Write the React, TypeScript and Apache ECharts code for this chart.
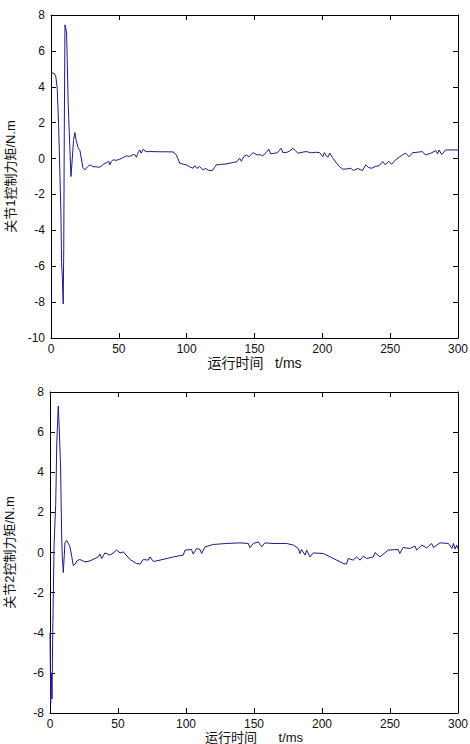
import React, { useEffect, useRef } from "react";
import * as echarts from "echarts";

// Joint 1 torque: [time ms, torque N.m]
const joint1: [number, number][] = [
  [0, 4.75], [2, 4.77], [3.5, 4.6], [4.6, 3.9], [5.6, 1.9], [6.6, -1.0], [7.3, -3.0], [7.8, -5.8], [8.3, -6.5], [9.0, -8.1],
  [9.4, -5.0], [9.8, 1.5], [10.3, 7.45], [10.8, 7.3], [11.5, 7.0], [12.7, 3.0], [14.0, 0.4], [14.7, -1.0], [15.7, 0.0],
  [16.6, 1.0], [17.6, 1.45], [18.6, 1.0], [20, 0.6], [21.3, 0.45], [23.5, -0.5], [25, -0.63], [27, -0.45], [28.7, -0.35],
  [31, -0.45], [36, -0.48], [39, -0.3], [41, -0.22], [42.5, -0.15], [43.4, -0.35], [44.5, -0.15], [45.8, -0.07], [48, -0.1],
  [50.7, -0.04], [53, 0.05], [55.6, 0.15], [58, 0.12], [60, 0.2], [61.8, 0.22], [63, 0.07], [64, 0.3], [65.4, 0.48],
  [66.5, 0.3], [67.9, 0.52], [70, 0.38], [72.8, 0.39], [80, 0.38], [90, 0.37], [92.4, 0.2], [94.9, -0.26], [97, -0.3],
  [99.8, -0.35], [102, -0.45], [104.6, -0.54], [106, -0.4], [107.5, -0.55], [109.5, -0.44], [112, -0.63], [114, -0.55],
  [116, -0.65], [119, -0.67], [120.5, -0.5], [121.8, -0.35], [125, -0.33], [129, -0.3], [134, -0.22], [137, -0.18],
  [139, 0.02], [140.3, -0.15], [142, 0.1], [143.9, 0.2], [146, 0.1], [148.8, 0.33], [152, 0.2], [154, 0.22], [156, 0.15],
  [158.6, 0.33], [160.5, 0.52], [162, 0.26], [165, 0.3], [167, 0.33], [169.6, 0.57], [171, 0.33], [174, 0.35], [176, 0.42],
  [178.2, 0.57], [180, 0.45], [182, 0.3], [185, 0.35], [188, 0.39], [192, 0.32], [195, 0.35], [198, 0.33], [200.3, 0.1],
  [201.5, 0.33], [203, 0.15], [204, 0.07], [205.5, 0.3], [207.5, 0.05], [210, -0.2], [212.5, -0.44], [215, -0.59], [218, -0.58],
  [221, -0.54], [223, -0.67], [226, -0.55], [229.6, -0.67], [232, -0.35], [234, -0.5], [236.5, -0.54], [239, -0.44],
  [241.9, -0.4], [244.5, -0.17], [246.5, -0.35], [249, -0.15], [251, -0.32], [254, -0.07], [256.5, 0.07], [259, 0.2],
  [261.5, 0.3], [264, 0.1], [266.5, 0.33], [270, 0.35], [273.7, 0.39], [276, 0.2], [280, 0.3], [283.6, 0.44], [285, 0.26],
  [286, 0.48], [288, 0.22], [290.9, 0.48], [295, 0.48], [300, 0.48],
];

// Joint 2 torque: [time ms, torque N.m]
const joint2: [number, number][] = [
  [0, -4.0], [0.5, -7.5], [1.0, -6.0], [1.5, -7.3], [2.0, -4.0], [3.0, 0.4], [4.2, 2.4], [5.0, 5.5], [6.1, 7.3], [6.8, 6.2],
  [7.8, 4.2], [8.5, 1.1], [9.0, -0.2], [9.8, -1.0], [11.0, 0.5], [12.3, 0.6], [13.5, 0.45], [14.7, 0.28], [16.0, -0.2],
  [17.1, -0.65], [18.4, -0.58], [20, -0.4], [22, -0.35], [25.7, -0.47], [29.4, -0.42], [33, -0.3], [35.5, -0.22],
  [36.7, -0.08], [38, -0.3], [40.4, -0.02], [44, -0.13], [47, 0.0], [49, 0.12], [51.5, -0.02], [54, 0.03], [58.8, -0.35],
  [63.7, -0.55], [66.2, -0.58], [68.6, -0.35], [72.3, -0.38], [73.5, -0.22], [76, -0.45], [80.9, -0.38], [90.7, -0.22],
  [98, -0.13], [99.3, 0.12], [104, 0.15], [105.3, -0.08], [107.8, 0.2], [110.3, 0.15], [111.5, -0.05], [114, 0.28],
  [120, 0.4], [130, 0.45], [139.7, 0.48], [145.8, 0.45], [147, 0.25], [149.5, 0.45], [153.2, 0.53], [155.6, 0.28],
  [158, 0.48], [164, 0.45], [174, 0.45], [179, 0.37], [182.6, 0.2], [183.8, -0.05], [185, 0.15], [187.5, -0.13],
  [188.7, 0.12], [191.2, -0.22], [193.6, -0.02], [201, -0.05], [206, -0.22], [210.8, -0.38], [215.7, -0.55],
  [218, -0.58], [219.3, -0.3], [223, -0.38], [225.5, -0.22], [228, -0.38], [230.4, -0.18], [232.8, -0.3], [237.7, -0.22],
  [239, 0.0], [242.6, -0.22], [248.7, 0.12], [256, 0.15], [257.2, -0.05], [259.6, 0.25], [264.5, 0.2], [268.4, 0.32],
  [269.6, 0.12], [273.3, 0.37], [277, 0.23], [280.6, 0.45], [281.9, 0.25], [286.8, 0.48], [293, 0.45], [295.5, 0.2],
  [296.7, 0.45], [297.9, 0.17], [299, 0.37], [300, 0.2],
];

const xTicks = { min: 0, max: 300, interval: 50 };
const y1Range = { min: -10, max: 8, interval: 2 };
const y2Range = { min: -8, max: 8, interval: 2 };

const xName1 = "运行时间   t/ms";
const xName2 = "运行时间      t/ms";
const yName1 = "关节1控制力矩/N.m";
const yName2 = "关节2控制力矩/N.m";

const FONT = '"Liberation Sans", Arial, "Noto Sans CJK SC", sans-serif';
const LINE_COLOR = "#1a1a8c";

export default function App() {
  const ref = useRef<HTMLDivElement>(null);
  useEffect(() => {
    if (!ref.current) return;
    const chart = echarts.init(ref.current, undefined, { renderer: "svg" });
    const axisLine = { show: true, onZero: false, lineStyle: { color: "#000", width: 1 } };
    const tick = { show: true, inside: true, length: 5, lineStyle: { color: "#000" } };
    const label = { color: "#111", fontSize: 12, fontFamily: FONT };
    const nameStyle = { color: "#111", fontSize: 13, fontFamily: FONT };
    const mkX = (grid: number, name: string, gap: number, size: number) => [
      {
        type: "value", gridIndex: grid, ...xTicks, position: "bottom",
        axisLine, axisTick: tick, axisLabel: { ...label, margin: 5 }, splitLine: { show: false },
        name, nameLocation: "middle", nameGap: gap, nameTextStyle: { ...nameStyle, fontSize: size },
      },
      {
        type: "value", gridIndex: grid, ...xTicks, position: "top",
        axisLine, axisTick: tick, axisLabel: { show: false }, splitLine: { show: false },
      },
    ];
    const mkY = (grid: number, range: any, name: string) => [
      {
        type: "value", gridIndex: grid, ...range, position: "left",
        axisLine, axisTick: tick, axisLabel: { ...label, margin: 6 }, splitLine: { show: false },
        name, nameLocation: "middle", nameGap: 34, nameTextStyle: nameStyle,
      },
      {
        type: "value", gridIndex: grid, ...range, position: "right",
        axisLine, axisTick: tick, axisLabel: { show: false }, splitLine: { show: false },
      },
    ];
    chart.setOption({
      animation: false,
      backgroundColor: "#fff",
      grid: [
        { left: 51, top: 15, width: 407, height: 323, outerBoundsMode: "none", containLabel: false },
        { left: 50, top: 392, width: 408, height: 321, outerBoundsMode: "none", containLabel: false },
      ],
      xAxis: [...mkX(0, xName1, 18, 14), ...mkX(1, xName2, 16, 13)],
      yAxis: [...mkY(0, y1Range, yName1), ...mkY(1, y2Range, yName2)],
      series: [
        {
          type: "line", xAxisIndex: 0, yAxisIndex: 0, data: joint1, showSymbol: false,
          lineStyle: { color: LINE_COLOR, width: 1 }, clip: true,
        },
        {
          type: "line", xAxisIndex: 2, yAxisIndex: 2, data: joint2, showSymbol: false,
          lineStyle: { color: LINE_COLOR, width: 1 }, clip: true,
        },
      ],
    });
    return () => chart.dispose();
  }, []);
  return (
    <div
      ref={ref}
      style={{ position: "absolute", left: 0, top: 0, width: 470, height: 744, background: "#fff" }}
    />
  );
}
